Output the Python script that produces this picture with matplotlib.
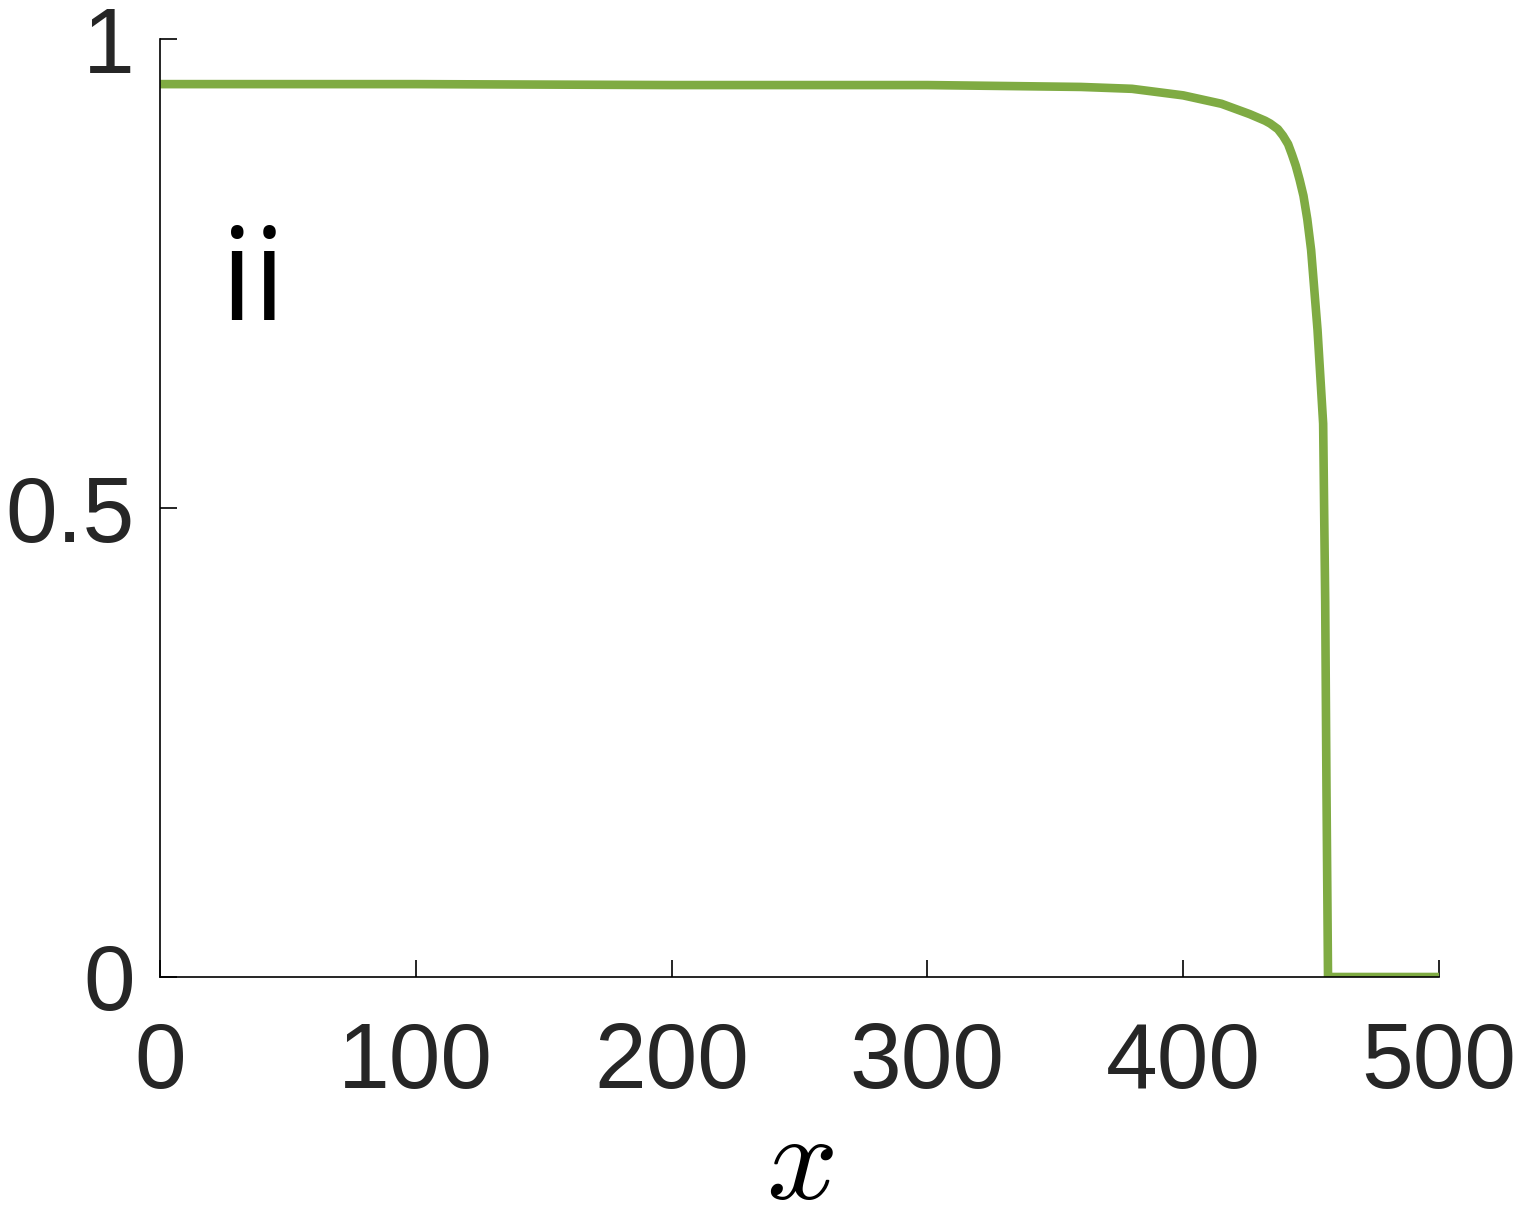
import matplotlib
matplotlib.use("Agg")
import matplotlib.pyplot as plt

# values
x = [0, 100, 200, 300, 330, 360, 380, 400, 415, 426, 432, 434, 437, 439,
     441, 442.5, 444, 445.5, 447, 448.5, 450, 452.5, 454.7, 455.5, 456,
     456.6, 470, 500]
y = [0.952, 0.952, 0.951, 0.951, 0.950, 0.949, 0.947, 0.940, 0.931, 0.920,
     0.913, 0.910, 0.904, 0.897, 0.888, 0.877, 0.865, 0.850, 0.833, 0.808,
     0.775, 0.69, 0.59, 0.40, 0.20, 0.0, 0.0, 0.0]
xticks = [0, 100, 200, 300, 400, 500]
yticks = [0, 0.5, 1]
yticklabels = ["0", "0.5", "1"]

plt.rcParams['font.family'] = ['Liberation Sans', 'DejaVu Sans']
plt.rcParams['mathtext.fontset'] = 'cm'

fig = plt.figure(figsize=(15.22, 12.22), dpi=100)
ax = fig.add_axes([0.105, 0.2005, 0.8405, 0.7675])
ax.plot(x, y, color="#7fab43", linewidth=6.2, solid_capstyle='butt')

ax.set_xlim(0, 500)
ax.set_ylim(0, 1)
ax.set_xticks(xticks)
ax.set_xticklabels([str(t) for t in xticks])
ax.set_yticks(yticks)
ax.set_yticklabels(yticklabels)
ax.spines['top'].set_visible(False)
ax.spines['right'].set_visible(False)
for s in ['left', 'bottom']:
    ax.spines[s].set_linewidth(1.2)
ax.tick_params(direction='in', length=12, width=1.2, labelsize=67,
               labelcolor='#262626')
ax.tick_params(axis='x', pad=32)
ax.tick_params(axis='y', pad=18)
ax.set_xlabel("$x$", fontsize=90, labelpad=1)
ax.text(24, 0.70, "ii", fontsize=92, color='black', family='Open Sans',
        fontweight='medium')

fig.savefig("out.png", dpi=100)
